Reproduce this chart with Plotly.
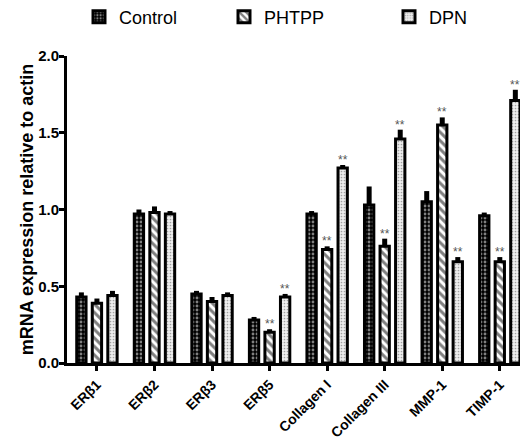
import plotly.graph_objects as go

categories = ["ERβ1", "ERβ2", "ERβ3", "ERβ5", "Collagen I", "Collagen III", "MMP-1", "TIMP-1"]
control = [0.43, 0.97, 0.45, 0.28, 0.97, 1.03, 1.05, 0.96]
control_err = [0.03, 0.03, 0.02, 0.02, 0.02, 0.12, 0.07, 0.02]
phtpp = [0.39, 0.98, 0.40, 0.20, 0.74, 0.76, 1.55, 0.66]
phtpp_err = [0.03, 0.04, 0.03, 0.02, 0.02, 0.05, 0.05, 0.03]
dpn = [0.44, 0.97, 0.44, 0.43, 1.27, 1.46, 0.66, 1.71]
dpn_err = [0.03, 0.02, 0.02, 0.02, 0.02, 0.06, 0.03, 0.07]
phtpp_sig = ["", "", "", "**", "**", "**", "**", "**"]
dpn_sig = ["", "", "", "**", "**", "**", "**", "**"]

FONT = "Liberation Sans, Arial, sans-serif"

def bar(name, y, err, pattern, legend):
    return go.Bar(
        name=name, x=categories, y=y, legend=legend, showlegend=True,
        marker=dict(color="white", line=dict(color="black", width=3), pattern=pattern),
        error_y=dict(type="data", array=err, arrayminus=[0] * len(err), symmetric=False,
                     color="black", thickness=5, width=0),
    )

fig = go.Figure()
fig.add_trace(bar("Control", control, control_err,
                  dict(shape=".", fgcolor="white", bgcolor="black", size=4, solidity=0.4), "legend"))
fig.add_trace(bar("PHTPP", phtpp, phtpp_err,
                  dict(shape="\\", fgcolor="black", bgcolor="white", size=6, solidity=0.5), "legend2"))
fig.add_trace(bar("DPN", dpn, dpn_err,
                  dict(shape=".", fgcolor="#555555", bgcolor="#eeeeee", size=3, solidity=0.25), "legend3"))

slot = 15.5
for i, c in enumerate(categories):
    if phtpp_sig[i]:
        fig.add_annotation(x=c, y=phtpp[i] + phtpp_err[i], text=phtpp_sig[i], showarrow=False,
                           yanchor="bottom", yshift=-4, xshift=0,
                           font=dict(family=FONT, size=12, color="#555555"))
    if dpn_sig[i]:
        fig.add_annotation(x=c, y=dpn[i] + dpn_err[i], text=dpn_sig[i], showarrow=False,
                           yanchor="bottom", yshift=-4, xshift=slot,
                           font=dict(family=FONT, size=12, color="#555555"))

legend_common = dict(orientation="h", yref="container", y=0.979, yanchor="middle",
                     xref="container", xanchor="left",
                     font=dict(family=FONT, size=18, color="black"),
                     bgcolor="rgba(0,0,0,0)", itemwidth=30)
fig.update_layout(
    width=520, height=432,
    margin=dict(l=59, r=0, t=48, b=77, autoexpand=False),
    paper_bgcolor="white", plot_bgcolor="white",
    barmode="group", bargap=0.19, bargroupgap=0.4,
    showlegend=True,
    legend=dict(legend_common, x=71 / 520),
    legend2=dict(legend_common, x=216 / 520),
    legend3=dict(legend_common, x=381 / 520),
    font=dict(family=FONT, color="black"),
    xaxis=dict(
        type="category", range=[-0.52, 7.49], showline=True, linecolor="black", linewidth=3,
        ticks="outside", ticklen=5, tickwidth=3, tickcolor="black", tickangle=-45, automargin=False,
        tickfont=dict(family=FONT, size=14, color="black", weight="bold"), showgrid=False,
    ),
    yaxis=dict(
        range=[0, 2.0], tickvals=[0, 0.5, 1.0, 1.5, 2.0], ticktext=["0.0", "0.5", "1.0", "1.5", "2.0"],
        showline=True, linecolor="black", linewidth=3, ticks="outside", ticklen=5, tickwidth=3,
        tickcolor="black", showgrid=False, zeroline=False, automargin=False, ticklabelstandoff=-3,
        tickfont=dict(family=FONT, size=15, color="black", weight="bold"),
        title=dict(text="mRNA expression relative to actin", standoff=0,
                   font=dict(family=FONT, size=18, color="black", weight="bold")),
    ),
)

fig.write_html("out.html")
